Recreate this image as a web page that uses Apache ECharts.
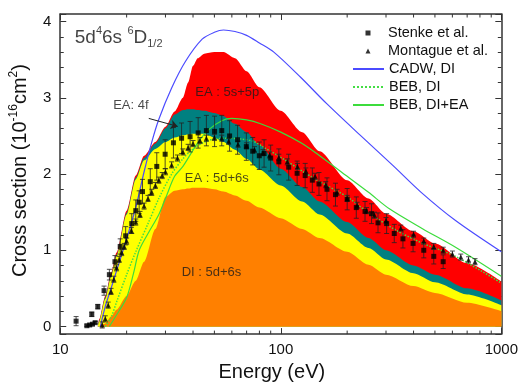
<!DOCTYPE html>
<html>
<head>
<meta charset="utf-8">
<script src="https://cdn.jsdelivr.net/npm/echarts@6/dist/echarts.min.js"></script>
<style>
html,body{margin:0;padding:0;background:#fff;}
#chart{width:521px;height:387px;}
</style>
</head>
<body>
<div id="chart"></div>
<script>
// ---------------- data ----------------
// energies (eV) for the stacked contribution boundaries
const E_GRID = [14.8, 15, 16, 17, 18, 20, 22, 24, 27, 30, 33, 36, 38, 40, 42, 45, 50, 55, 62, 70, 80, 100, 125, 150, 200, 250, 300, 400, 500, 700, 1000];
// cumulative tops of the shaded regions (10^-16 cm^2)
const TOP_DI_5d6s = [0, 0, 0.04, 0.13, 0.22, 0.40, 0.60, 0.85, 1.28, 1.70, 1.78, 1.80, 1.81, 1.82, 1.82, 1.82, 1.80, 1.77, 1.72, 1.65, 1.56, 1.42, 1.28, 1.16, 0.98, 0.81, 0.68, 0.53, 0.44, 0.31, 0.20];
const TOP_EA_5d6s = [0, 0.06, 0.36, 0.65, 0.92, 1.47, 1.93, 2.18, 2.33, 2.42, 2.48, 2.51, 2.52, 2.53, 2.53, 2.53, 2.48, 2.42, 2.32, 2.20, 2.06, 1.85, 1.64, 1.47, 1.22, 1.03, 0.88, 0.70, 0.58, 0.42, 0.28];
const TOP_EA_4f = [0, 0.07, 0.38, 0.67, 0.94, 1.49, 1.95, 2.21, 2.40, 2.60, 2.78, 2.84, 2.85, 2.85, 2.84, 2.83, 2.80, 2.76, 2.66, 2.55, 2.38, 2.07, 1.83, 1.64, 1.37, 1.16, 1.00, 0.80, 0.68, 0.50, 0.34];
const TOP_EA_5s5p = [0, 0.09, 0.40, 0.70, 0.97, 1.52, 1.98, 2.24, 2.42, 2.62, 2.82, 3.00, 3.20, 3.42, 3.52, 3.58, 3.60, 3.60, 3.52, 3.35, 3.14, 2.83, 2.55, 2.30, 1.92, 1.68, 1.48, 1.25, 1.09, 0.83, 0.59];

// theory curves
const CADW_E = [15.2, 16, 17, 18, 20, 22, 24, 26, 28, 32, 37, 44, 50, 55, 62, 70, 80, 93, 123, 162, 229, 323, 433, 620, 1000];
const CADW_DI = [0, 0.26, 0.50, 0.73, 1.15, 1.56, 2.03, 2.42, 2.72, 3.13, 3.48, 3.77, 3.86, 3.89, 3.87, 3.82, 3.72, 3.60, 3.27, 2.92, 2.51, 2.11, 1.76, 1.39, 0.98];
const BEB_DI_E = [16, 17, 18, 20, 22, 25, 28, 32, 36, 40, 45, 50, 58, 66, 75, 85, 100, 125, 150, 200, 250, 335, 441, 620, 1000];
const BEB_DI = [0, 0.12, 0.32, 0.68, 0.98, 1.35, 1.68, 2.00, 2.20, 2.33, 2.42, 2.46, 2.47, 2.46, 2.43, 2.34, 2.22, 2.04, 1.90, 1.70, 1.49, 1.26, 1.09, 0.92, 0.57];
const BEB_DIEA_E = [16.7, 18, 20, 21.5, 22.8, 25, 28, 30, 33, 36, 42, 47, 54, 60, 70, 81, 100, 125, 150, 200, 250, 312, 441, 620, 1000];
const BEB_DIEA = [0, 0.15, 0.38, 0.70, 1.00, 1.22, 1.47, 1.68, 1.97, 2.10, 2.41, 2.58, 2.70, 2.73, 2.71, 2.66, 2.55, 2.40, 2.24, 1.97, 1.76, 1.54, 1.28, 1.04, 0.66];

// experiments: energy, value, error
const STENKE_E = [11.8, 13.2, 13.6, 14.0, 14.4, 13.9, 14.8, 15.8, 16.7, 17.7, 18.7, 19.8, 21.1, 22.0, 22.8, 23.6, 25.6, 27.4, 29.9, 32.6, 35.5, 38.8, 42.2, 46.0, 50.1, 54.0, 58.6, 63.7, 69.8, 74.6, 79.9, 84, 90, 98, 108.6, 118.6, 129, 139, 149, 162, 177, 200, 220, 241, 258, 276, 302, 327, 358, 398, 445, 494, 545];
const STENKE_V = [0.07, 0.01, 0.02, 0.03, 0.05, 0.16, 0.26, 0.47, 0.68, 0.85, 1.05, 1.19, 1.35, 1.52, 1.63, 1.77, 1.90, 2.10, 2.26, 2.41, 2.47, 2.49, 2.54, 2.57, 2.56, 2.57, 2.50, 2.45, 2.36, 2.30, 2.24, 2.27, 2.21, 2.16, 2.09, 2.01, 1.98, 1.92, 1.87, 1.80, 1.73, 1.67, 1.56, 1.51, 1.48, 1.36, 1.35, 1.22, 1.15, 1.09, 1.00, 0.92, 0.85];
const STENKE_ERR = [0.06, 0.01, 0.01, 0.01, 0.015, 0.03, 0.03, 0.06, 0.07, 0.08, 0.10, 0.12, 0.13, 0.14, 0.15, 0.16, 0.17, 0.18, 0.19, 0.20, 0.20, 0.20, 0.20, 0.20, 0.20, 0.20, 0.20, 0.19, 0.18, 0.18, 0.18, 0.18, 0.17, 0.17, 0.17, 0.16, 0.16, 0.16, 0.15, 0.15, 0.15, 0.14, 0.14, 0.13, 0.13, 0.13, 0.13, 0.12, 0.12, 0.11, 0.10, 0.10, 0.09];
const MONT_E = [15.5, 16.0, 16.5, 17.0, 17.5, 18.0, 18.5, 19.0, 19.5, 20, 21, 22, 23, 24, 25, 26, 27, 28, 29, 30, 32, 34, 36, 38, 40, 43, 46, 50, 54, 58, 64, 70, 76, 83, 89, 98, 107, 119, 130, 143, 160, 180, 200, 222, 245, 266, 300, 350, 400, 445, 494, 545, 600, 655, 710, 760];
const MONT_V = [0.02, 0.10, 0.28, 0.46, 0.62, 0.77, 0.88, 0.97, 1.05, 1.12, 1.26, 1.37, 1.47, 1.58, 1.68, 1.76, 1.85, 1.92, 1.98, 2.03, 2.12, 2.21, 2.29, 2.35, 2.40, 2.44, 2.47, 2.48, 2.47, 2.43, 2.39, 2.37, 2.32, 2.28, 2.25, 2.22, 2.16, 2.10, 2.04, 1.97, 1.86, 1.76, 1.68, 1.59, 1.52, 1.46, 1.39, 1.29, 1.21, 1.12, 1.05, 1.00, 0.95, 0.91, 0.875, 0.85];
const MONT_ERR = 0.04;

// axis tick values
const X_MINOR_TICKS = [20, 30, 40, 50, 60, 70, 80, 90, 200, 300, 400, 500, 600, 700, 800, 900];

// text annotations [energy, value, text]
const REGION_LABELS = [
  [57.2, 3.065, 'EA : 5s+5p'],
  [51.3, 1.94, 'EA : 5d+6s'],
  [48.5, 0.705, 'DI : 5d+6s'],
  [20.9, 2.90, 'EA: 4f']
];
const ARROW_4F = [[25.2, 2.73], [34.1, 2.625]];
const STATE_LABEL = [11.64, 3.79];

// ---------------- chart ----------------
const FONT = 'Liberation Sans, Arial, Helvetica, sans-serif';
const AX = '#333';
const pairs = (xs, ys) => xs.map((x, i) => [x, ys[i]]);
const triples = (xs, ys, es) => xs.map((x, i) => [x, ys[i], Array.isArray(es) ? es[i] : es]);

function areaSeries(name, top, color) {
  return {
    name: name, type: 'line', data: pairs(E_GRID, top),
    symbol: 'none', smooth: 0.25, smoothMonotone: 'x', silent: true,
    lineStyle: {width: 0}, areaStyle: {color: color, opacity: 1}, z: 1
  };
}
function errRender(params, api) {
  const x = api.value(0), y = api.value(1), e = api.value(2);
  const hi = api.coord([x, y + e]), lo = api.coord([x, y - e]);
  const w = 2.5;
  const st = {stroke: '#222', lineWidth: 0.8};
  return {type: 'group', children: [
    {type: 'line', shape: {x1: hi[0], y1: hi[1], x2: lo[0], y2: lo[1]}, style: st},
    {type: 'line', shape: {x1: hi[0] - w, y1: hi[1], x2: hi[0] + w, y2: hi[1]}, style: st},
    {type: 'line', shape: {x1: lo[0] - w, y1: lo[1], x2: lo[0] + w, y2: lo[1]}, style: st}
  ]};
}
function minorRender(params, api) {
  const x = api.value(0);
  const b = api.coord([x, -0.1]), t = api.coord([x, 4.1]);
  const st = {stroke: AX, lineWidth: 1};
  return {type: 'group', children: [
    {type: 'line', shape: {x1: b[0], y1: b[1], x2: b[0], y2: b[1] - 3.5}, style: st},
    {type: 'line', shape: {x1: t[0], y1: t[1], x2: t[0], y2: t[1] + 3.5}, style: st}
  ]};
}

const xBase = {
  type: 'log', logBase: 10, min: 10, max: 1000,
  axisLine: {onZero: false, lineStyle: {color: AX, width: 1.5}},
  axisTick: {inside: true, length: 6, lineStyle: {color: AX, width: 1}},
  splitLine: {show: false}
};
const yBase = {
  type: 'value', min: -0.1, max: 4.1,
  axisLine: {onZero: false, lineStyle: {color: AX, width: 1.5}},
  axisTick: {inside: true, length: 6, lineStyle: {color: AX, width: 1}},
  minorTick: {show: true, splitNumber: 5, length: 3.5, lineStyle: {color: AX, width: 1}},
  splitLine: {show: false}
};
const legendText = {fontSize: 14.5, color: '#111', lineHeight: 18, fontFamily: FONT};

const option = {
  animation: false,
  backgroundColor: '#fff',
  textStyle: {fontFamily: FONT},
  grid: {left: 57, right: 18, top: 14, bottom: 44},
  legend: [
    {
      orient: 'vertical', left: 365.5, top: 24, padding: 0,
      itemWidth: 5, itemHeight: 5, itemGap: 0,
      textStyle: Object.assign({padding: [0, 0, 0, 12.5]}, legendText),
      data: [
        {name: 'Stenke et al.', icon: 'rect'},
        {name: 'Montague et al.', icon: 'triangle'}
      ]
    },
    {
      orient: 'vertical', left: 352, top: 60, padding: 0,
      itemWidth: 31, itemHeight: 5, itemGap: 0,
      textStyle: legendText,
      data: [
        {name: 'CADW, DI', itemStyle: {opacity: 0}},
        {name: 'BEB, DI', itemStyle: {opacity: 0}},
        {name: 'BEB, DI+EA', itemStyle: {opacity: 0}}
      ]
    }
  ],
  xAxis: [
    Object.assign({}, xBase, {
      position: 'bottom',
      axisLabel: {fontSize: 15, color: '#111', margin: 8, fontFamily: FONT, formatter: v => String(Math.round(v))},
      name: 'Energy (eV)', nameLocation: 'middle', nameGap: 25,
      nameTextStyle: {fontSize: 20, color: '#111', padding: [0, 18, 0, 0], fontFamily: FONT}
    }),
    Object.assign({}, xBase, {position: 'top', axisLabel: {show: false}})
  ],
  yAxis: [
    Object.assign({}, yBase, {
      position: 'left',
      axisLabel: {
        fontSize: 15, color: '#111', margin: 9, fontFamily: FONT,
        showMinLabel: false, showMaxLabel: false,
        formatter: v => (Math.abs(v - Math.round(v)) < 1e-9 ? String(Math.round(v)) : '')
      },
      name: 'Cross section (10{s|-16}cm{s|2})', nameLocation: 'middle', nameGap: 22,
      nameTextStyle: {
        fontSize: 20, color: '#111', lineHeight: 24, padding: [0, 0, 0, 7], fontFamily: FONT,
        rich: {s: {fontSize: 12, lineHeight: 12, verticalAlign: 'top', color: '#111', fontFamily: FONT}}
      }
    }),
    Object.assign({}, yBase, {position: 'right', axisLabel: {show: false}})
  ],
  series: [
    areaSeries('EA : 5s+5p', TOP_EA_5s5p, '#FF0000'),
    areaSeries('EA: 4f', TOP_EA_4f, '#008080'),
    areaSeries('EA : 5d+6s', TOP_EA_5d6s, '#FFFF00'),
    areaSeries('DI : 5d+6s', TOP_DI_5d6s, '#FF8000'),
    {
      name: 'CADW, DI', type: 'line', data: pairs(CADW_E, CADW_DI), symbol: 'none',
      smooth: 0.3, lineStyle: {color: '#4b4bff', width: 1.2}, itemStyle: {color: '#4b4bff'}, z: 3
    },
    {
      name: 'BEB, DI', type: 'line', data: pairs(BEB_DI_E, BEB_DI), symbol: 'none',
      smooth: 0.3, lineStyle: {color: '#44dd44', width: 1.5, type: 'dotted'}, itemStyle: {color: '#44dd44'}, z: 3
    },
    {
      name: 'BEB, DI+EA', type: 'line', data: pairs(BEB_DIEA_E, BEB_DIEA), symbol: 'none',
      smooth: 0.3, lineStyle: {color: '#3cdc3c', width: 1.2}, itemStyle: {color: '#3cdc3c'}, z: 3
    },
    {
      type: 'custom', name: 'Stenke err', renderItem: errRender, clip: false,
      data: triples(STENKE_E, STENKE_V, STENKE_ERR), encode: {x: 0, y: 1}, z: 4, silent: true
    },
    {
      type: 'custom', name: 'Montague err', renderItem: errRender, clip: false,
      data: triples(MONT_E, MONT_V, MONT_ERR), encode: {x: 0, y: 1}, z: 4, silent: true
    },
    {
      name: 'Stenke et al.', type: 'scatter', symbol: 'rect', symbolSize: 5,
      data: pairs(STENKE_E, STENKE_V), itemStyle: {color: '#000'}, z: 5
    },
    {
      name: 'Montague et al.', type: 'scatter', symbol: 'triangle', symbolSize: 5,
      data: pairs(MONT_E, MONT_V), itemStyle: {color: '#000'}, z: 5
    },
    {
      type: 'custom', name: 'minor ticks', renderItem: minorRender, clip: false,
      data: X_MINOR_TICKS.map(v => [v, 0]), encode: {x: 0, y: 1}, z: 6, silent: true
    },
    {
      type: 'scatter', name: 'region labels', symbolSize: 0, silent: true, z: 7,
      data: REGION_LABELS.map(r => ({value: [r[0], r[1]], name: r[2]})),
      label: {show: true, position: 'inside', formatter: '{b}', fontSize: 13, color: '#1a1a1a', fontFamily: FONT},
      markLine: {
        silent: true, symbol: ['none', 'arrow'], symbolSize: 7,
        label: {show: false},
        lineStyle: {color: '#222', width: 1, type: 'solid'},
        data: [[{coord: ARROW_4F[0]}, {coord: ARROW_4F[1]}]]
      }
    },
    {
      type: 'scatter', name: 'state', symbolSize: 0, silent: true, z: 7,
      data: [{value: STATE_LABEL, name: 'state'}],
      label: {
        show: true, position: 'right', distance: 0,
        formatter: '{a|5d}{s|4}{a|6s }{s|6}{a|D}{b|1/2}',
        rich: {
          a: {fontSize: 19, lineHeight: 24, color: '#111', fontFamily: FONT},
          s: {fontSize: 11, lineHeight: 12, verticalAlign: 'top', color: '#111', fontFamily: FONT},
          b: {fontSize: 11, lineHeight: 8, verticalAlign: 'bottom', color: '#111', fontFamily: FONT}
        }
      }
    }
  ]
};

const chart = echarts.init(document.getElementById('chart'), null, {renderer: 'canvas'});
chart.setOption(option);
</script>
</body>
</html>
